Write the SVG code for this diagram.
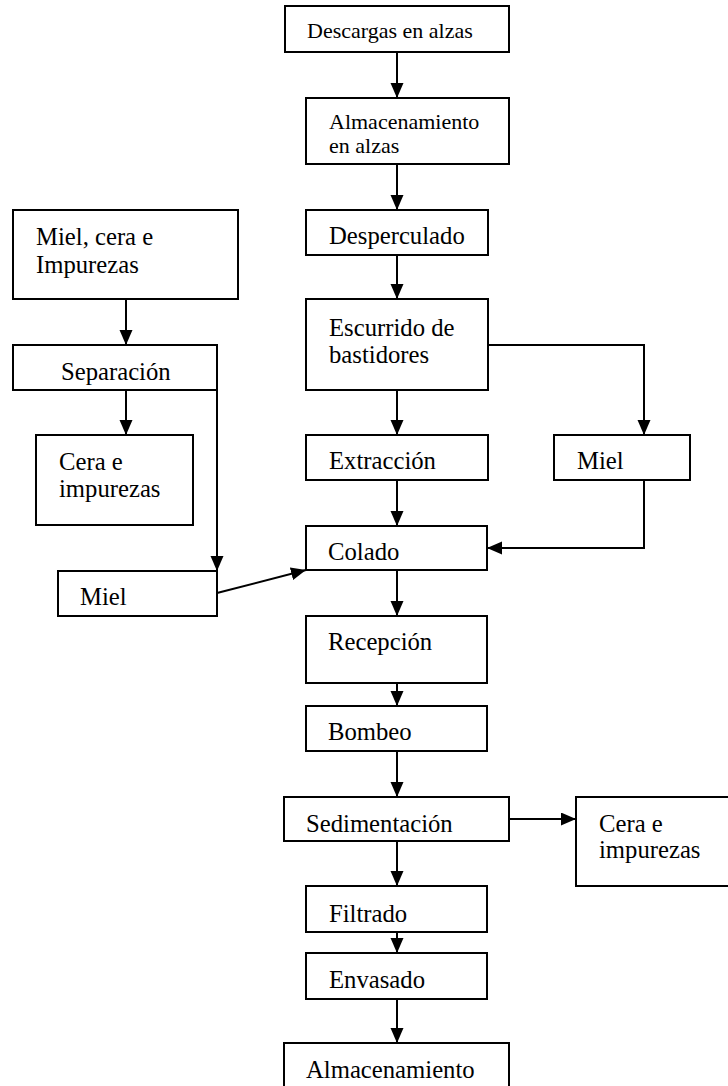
<svg xmlns="http://www.w3.org/2000/svg" width="728" height="1086" viewBox="0 0 728 1086">
<style>
rect{fill:#fff;stroke:#000;stroke-width:2}
text{font-family:"Liberation Serif","Times New Roman",serif;font-size:24.7px;fill:#000}
.s{font-size:22px}
#connectors path{fill:none;stroke:#000;stroke-width:2}
</style>
<defs>
<marker id="ah" markerUnits="userSpaceOnUse" markerWidth="16" markerHeight="14" refX="15" refY="6.5" orient="auto">
<path d="M0,0 L15,6.5 L0,13 z" fill="#000"/>
</marker>
</defs>
<rect width="728" height="1086" style="fill:#fff;stroke:none"/>
<g id="connectors">
<path d="M397,52 V98" marker-end="url(#ah)"/>
<path d="M397,164 V210" marker-end="url(#ah)"/>
<path d="M397,255 V299" marker-end="url(#ah)"/>
<path d="M397,390 V435" marker-end="url(#ah)"/>
<path d="M397,480 V526" marker-end="url(#ah)"/>
<path d="M397,570 V616" marker-end="url(#ah)"/>
<path d="M397,683 V706" marker-end="url(#ah)"/>
<path d="M397,751 V797" marker-end="url(#ah)"/>
<path d="M397,841 V886" marker-end="url(#ah)"/>
<path d="M397,932 V953" marker-end="url(#ah)"/>
<path d="M397,999 V1043" marker-end="url(#ah)"/>
<path d="M126,299 V345" marker-end="url(#ah)"/>
<path d="M126,390 V435" marker-end="url(#ah)"/>
<path d="M488,345 H644 V435" marker-end="url(#ah)"/>
<path d="M644,480 V548 H487" marker-end="url(#ah)"/>
<path d="M217,345 V571" marker-end="url(#ah)"/>
<path d="M217,593 L306,570" marker-end="url(#ah)"/>
<path d="M509,819 H576" marker-end="url(#ah)"/>
</g>
<g id="n_descargas"><rect x="285" y="6" width="224" height="46"/><text class="s" x="307" y="38">Descargas en alzas</text></g>
<g id="n_almacen_alzas"><rect x="306" y="98" width="203" height="66"/><text class="s" x="329" y="129">Almacenamiento</text><text class="s" x="329" y="153">en alzas</text></g>
<g id="n_desperculado"><rect x="306" y="210" width="182" height="45"/><text x="329" y="244">Desperculado</text></g>
<g id="n_escurrido"><rect x="306" y="299" width="182" height="91"/><text x="329" y="336">Escurrido de</text><text x="329" y="363">bastidores</text></g>
<g id="n_extraccion"><rect x="306" y="435" width="182" height="45"/><text x="329" y="469">Extracción</text></g>
<g id="n_miel_der"><rect x="554" y="435" width="136" height="45"/><text x="577" y="469">Miel</text></g>
<g id="n_mielcera"><rect x="13" y="210" width="225" height="89"/><text x="36" y="245">Miel, cera e</text><text x="36" y="273">Impurezas</text></g>
<g id="n_separacion"><rect x="13" y="345" width="204" height="45"/><text x="61" y="380">Separación</text></g>
<g id="n_cera_izq"><rect x="36" y="435" width="157" height="90"/><text x="59" y="470">Cera e</text><text x="59" y="497">impurezas</text></g>
<g id="n_miel_izq"><rect x="58" y="571" width="159" height="45"/><text x="80" y="605">Miel</text></g>
<g id="n_colado"><rect x="306" y="526" width="181" height="44"/><text x="328" y="560">Colado</text></g>
<g id="n_recepcion"><rect x="306" y="616" width="181" height="67"/><text x="328" y="650">Recepción</text></g>
<g id="n_bombeo"><rect x="306" y="706" width="181" height="45"/><text x="328" y="740">Bombeo</text></g>
<g id="n_sedimentacion"><rect x="284" y="797" width="225" height="44"/><text x="306" y="832">Sedimentación</text></g>
<g id="n_cera_der"><rect x="576" y="797" width="164" height="89"/><text x="599" y="832">Cera e</text><text x="599" y="858">impurezas</text></g>
<g id="n_filtrado"><rect x="306" y="886" width="181" height="46"/><text x="329" y="922">Filtrado</text></g>
<g id="n_envasado"><rect x="306" y="953" width="181" height="46"/><text x="329" y="988">Envasado</text></g>
<g id="n_almacenamiento"><rect x="284" y="1043" width="225" height="60"/><text x="306" y="1078">Almacenamiento</text></g>
</svg>
